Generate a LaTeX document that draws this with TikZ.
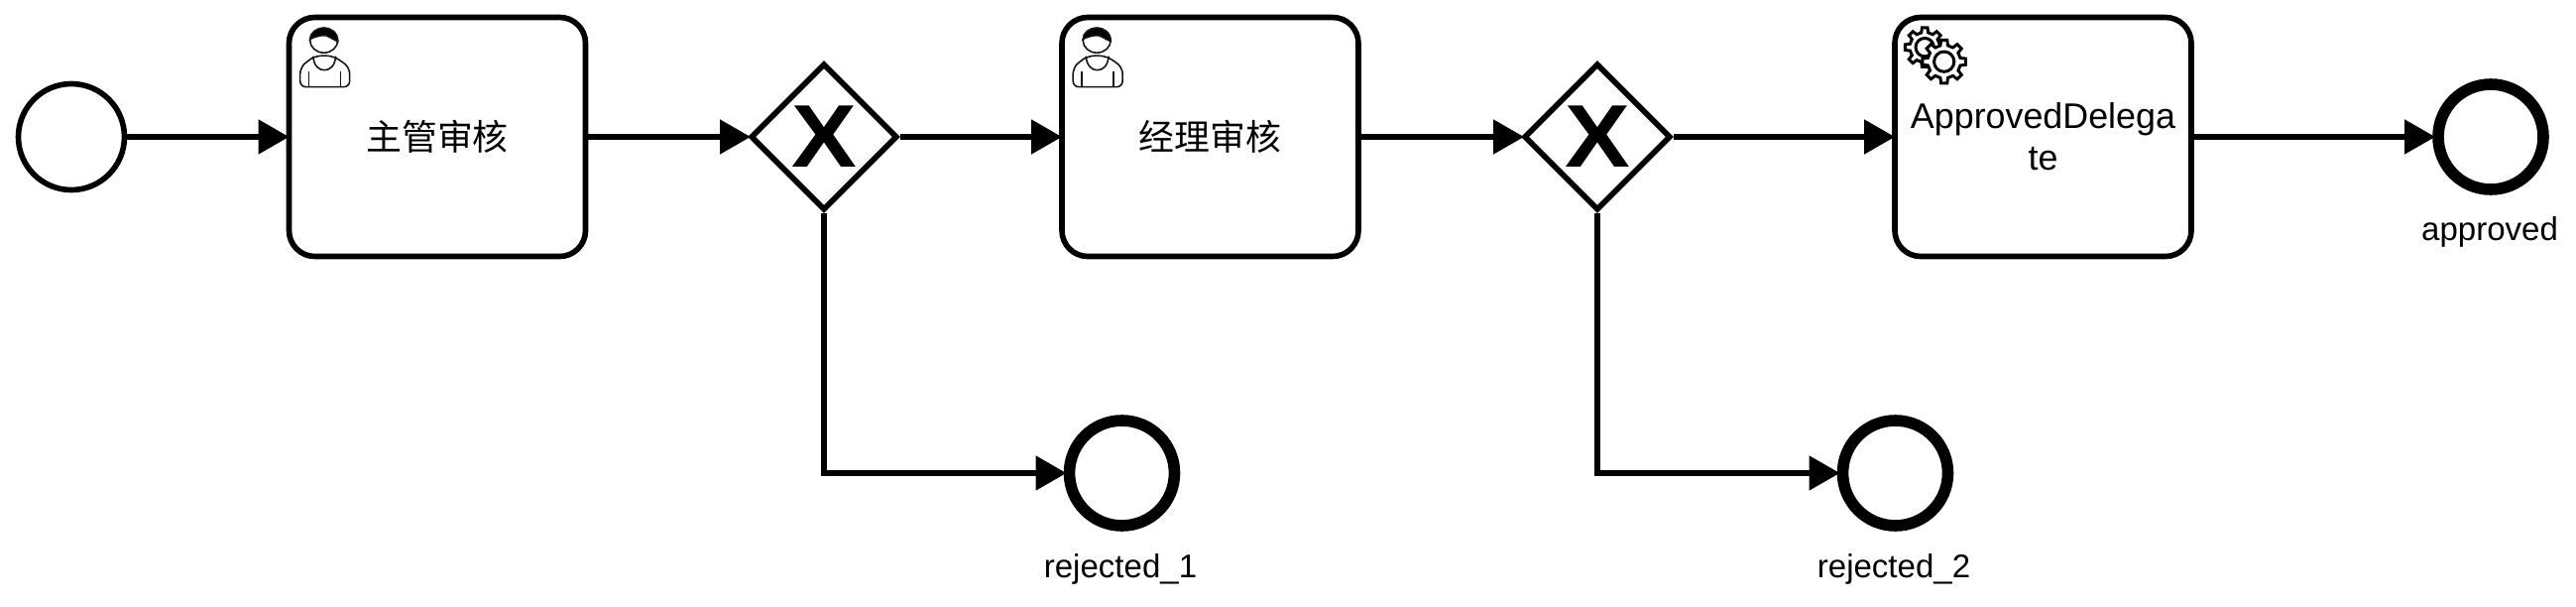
\documentclass[tikz,border=0pt]{standalone}
\usepackage{fontspec}
\setmainfont{Liberation Sans}
\newfontfamily\cjkfont{Noto Sans CJK SC}
\usetikzlibrary{
  shapes.geometric,
  arrows.meta,
  positioning
}
\definecolor{labelcolor}{RGB}{0, 0, 0}
\definecolor{arrowcolor}{RGB}{0, 0, 0}
\definecolor{iconcolor}{RGB}{20, 20, 20}
\tikzset{
blocktext/.style={
  align=center,
  font=\fontsize{10.2}{11.9}\selectfont,
  text=labelcolor
},
taskblock/.style={
  draw,
  rounded corners=2.6mm,
  fill=white,
  line width=1.6pt,
  minimum height=24.1mm,
  minimum width=29.9mm,
  inner sep=0pt,
  blocktext
},
gatewayblock/.style={
  draw,
  diamond,
  fill=white,
  line width=1.6pt,
  minimum width=14.8mm,
  minimum height=14.8mm,
  inner sep=0pt,
  font=\fontsize{25.5}{25.5}\selectfont\bfseries,
  text=labelcolor
},
startevent/.style={
  draw,
  circle,
  fill=white,
  line width=1.6pt,
  minimum size=10.7mm,
  inner sep=0pt
},
endevent/.style={
  draw,
  circle,
  fill=white,
  line width=3.3pt,
  minimum size=10.6mm,
  inner sep=0pt
},
eventlabel/.style={
  anchor=base,
  inner sep=0pt,
  font=\fontsize{9.4}{11}\selectfont,
  text=labelcolor
},
arrow/.style={
  -{Triangle[length=3.1mm,width=3.4mm]},
  line width=1.5pt,
  shorten >=-0.8pt,
  draw=arrowcolor
},
usericon/.pic={
  \begin{scope}[x=0.1mm,y=-0.1mm,draw=iconcolor,line width=0.45pt]
    \draw[fill=white, rounded corners=0.6mm] (14,73) -- (14,54) -- (21,47) -- (30,41.5) -- (46,41.5) -- (56,47) -- (64,54) -- (64,73) -- cycle;
    \draw (27,42) .. controls (28,52) and (33,56) .. (38.5,56) .. controls (44,56) and (49,52) .. (50,42);
    \draw (23,57) -- (23,73) (55,57) -- (55,73);
    \draw[fill=white] (38,26) ellipse (14 and 12.5);
    \draw[fill=black] (24,25) .. controls (24,18) and (31,13.5) .. (38,13.5) .. controls (45,13.5) and (52,18) .. (52,27) .. controls (46,25) and (42,20) .. (36,21) .. controls (31,22) and (27,23) .. (24,25) -- cycle;
  \end{scope}
},
gearwheel/.pic={
  \draw[fill=white, draw=labelcolor, line width=0.85pt, line join=miter]
    (-8:1) \foreach \a in {0,45,...,315} {
      -- (\a-8:1) -- (\a+8:1) -- (\a+13:0.76) -- (\a+32:0.76)
    } -- cycle;
  \draw[draw=labelcolor, line width=0.85pt] (0,0) circle (0.46);
}
}
\begin{document}
\begin{tikzpicture}
  \useasboundingbox (0,0) rectangle (25.98,-6.12);
  \fill[white] (0,0) rectangle (25.98,-6.12);

  \node[startevent] (start) at (0.72,-1.38) {};
  \node[taskblock] (supervisor) at (4.41,-1.38) {\cjkfont 主管审核};
  \node[gatewayblock] (gatewayone) at (8.31,-1.38) {\scalebox{1.1}[1]{X}};
  \node[taskblock] (manager) at (12.205,-1.38) {\cjkfont 经理审核};
  \node[gatewayblock] (gatewaytwo) at (16.11,-1.38) {\scalebox{1.1}[1]{X}};
  \node[taskblock] (delegate) at (20.605,-1.38) {ApprovedDelega\\te};
  \node[endevent] (approved) at (25.12,-1.38) {};
  \node[endevent] (rejectedone) at (11.315,-4.77) {};
  \node[endevent] (rejectedtwo) at (19.115,-4.77) {};

  \node[eventlabel] (approvedlabel) at (25.11,-2.42) {approved};
  \node[eventlabel] (rejectedonelabel) at (11.30,-5.82) {rejected\_1};
  \node[eventlabel] (rejectedtwolabel) at (19.10,-5.82) {rejected\_2};

  \pic at (supervisor.north west) {usericon};
  \pic at (manager.north west) {usericon};
  \pic[scale=0.2] at ([xshift=3.3mm,yshift=-3.3mm]delegate.north west) {gearwheel};
  \pic[scale=0.22] at ([xshift=5.25mm,yshift=-4.75mm]delegate.north west) {gearwheel};

  \draw[arrow] (start) -- (supervisor);
  \draw[arrow] (supervisor) -- (gatewayone);
  \draw[arrow] (gatewayone) -- (manager);
  \draw[arrow] (manager) -- (gatewaytwo);
  \draw[arrow] (gatewaytwo) -- (delegate);
  \draw[arrow] (delegate) -- (approved);
  \draw[arrow] (gatewayone.south) |- (rejectedone);
  \draw[arrow] (gatewaytwo.south) |- (rejectedtwo);
\end{tikzpicture}
\end{document}
